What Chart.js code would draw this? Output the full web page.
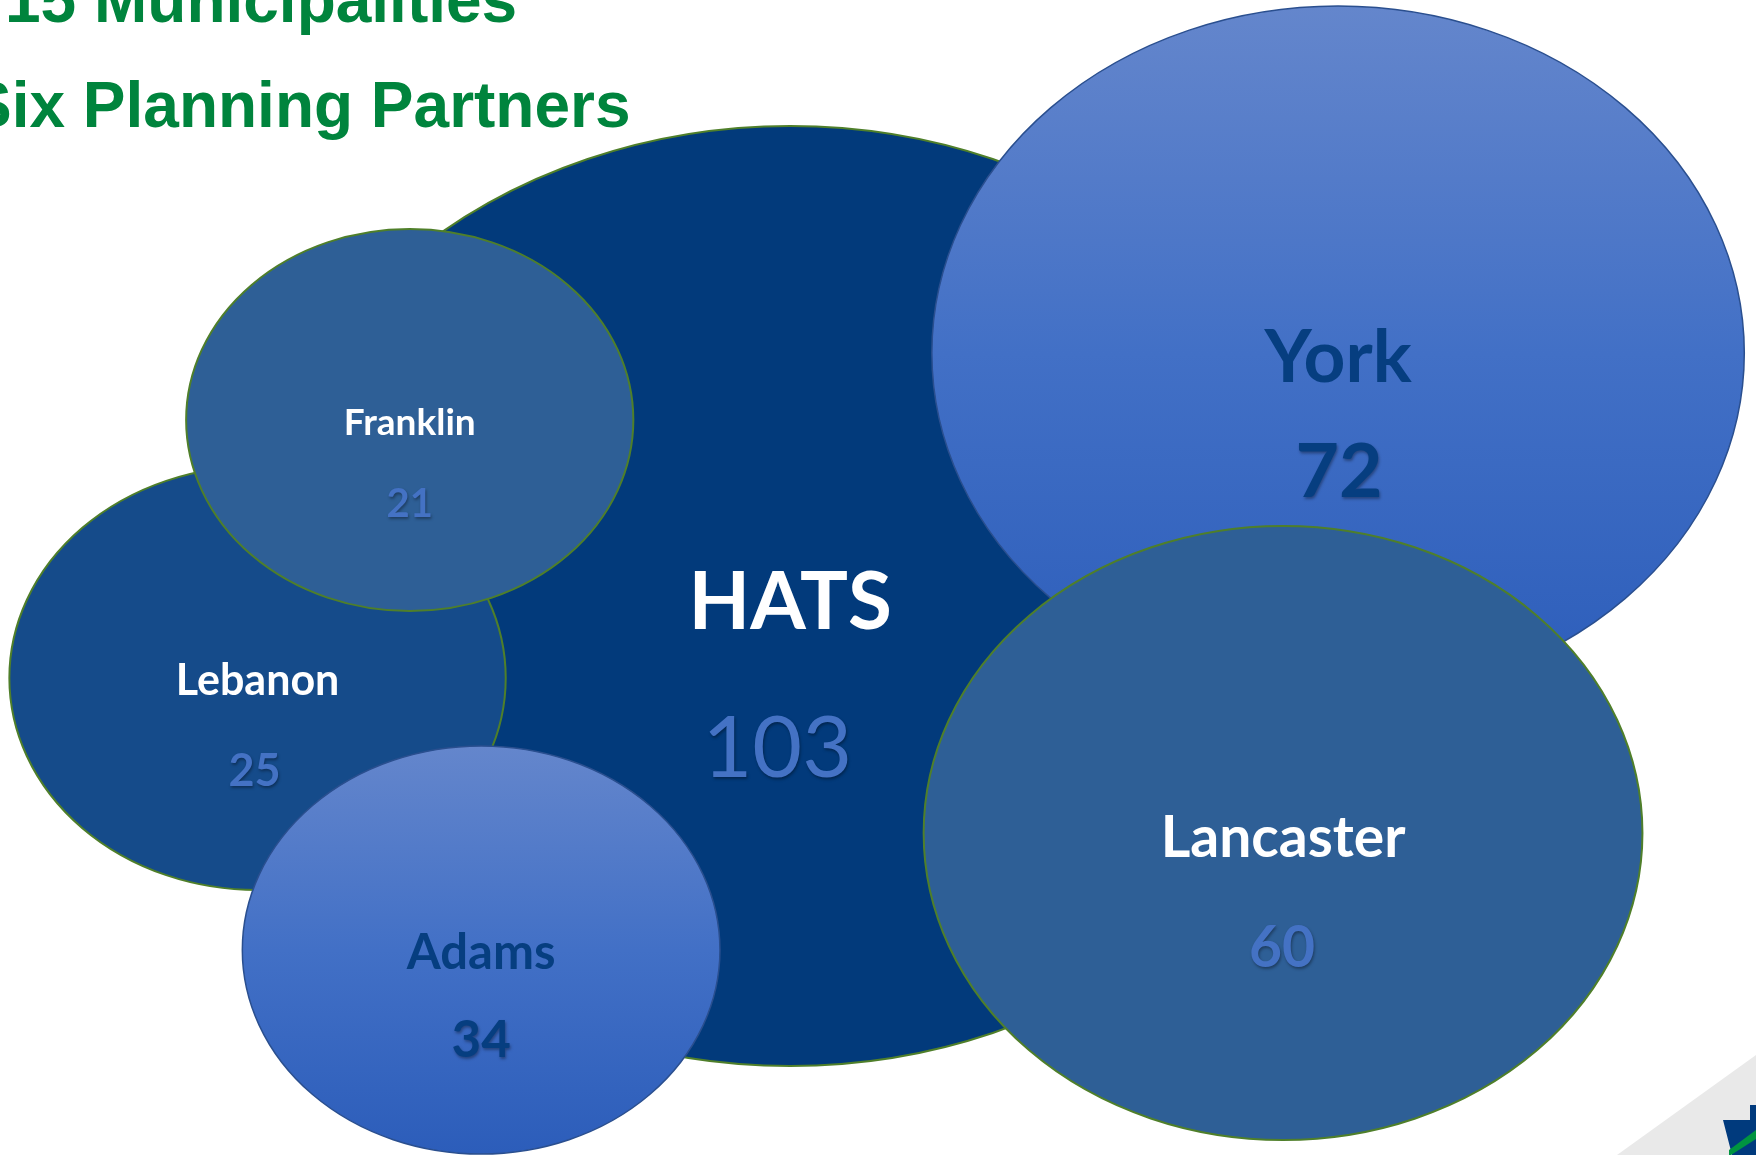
<!DOCTYPE html>
<html lang="en">
<head>
    <meta charset="UTF-8">
    <title>Six Planning Partners</title>
    <script src="https://cdn.jsdelivr.net/npm/chart.js"></script>
    <style>
        html, body { margin: 0; padding: 0; background: #fff; overflow: hidden; }
        #wrap { position: relative; width: 1756px; height: 1155px; }
        #bubbleChart { position: absolute; left: 0; top: 0; }
        .title {
            position: absolute; margin: 0; white-space: nowrap;
            font-family: "Liberation Sans", Arial, sans-serif; font-weight: bold;
            font-size: 64px; line-height: 1; color: #00843d;
        }
        #logo { position: absolute; left: 1600px; top: 1040px; }
    </style>
</head>
<body>
<div id="wrap">
    <canvas id="bubbleChart" width="1756" height="1155"></canvas>
    <!-- heading lines, cut by the slide edge like in the original -->
    <div class="title" style="left: 5px; top: -32px;">15 Municipalities</div>
    <div class="title" style="left: -31px; top: 73px;">Six Planning Partners</div>
    <svg id="logo" width="156" height="115" viewBox="1600 1040 156 115">
        <polygon points="1617,1155 1756,1055 1756,1155" fill="#e9e9e9"/>
        <polygon points="1723,1120 1750,1120 1750,1105 1756,1105 1756,1155 1732,1155" fill="#003a7d"/>
        <polygon points="1729,1150 1756,1130 1756,1139 1731,1155 1729,1155" fill="#009440"/>
    </svg>
</div>

<script>
    // partners, municipality counts and bubble placement (x, y, radius in data units)
    const partners = ["HATS", "Lebanon", "Franklin", "Adams", "York", "Lancaster"];
    const counts = [103, 25, 21, 34, 72, 60];
    const bubbleX = [675, 220, 350, 411, 1143, 1096];
    const bubbleY = [596, 678, 420, 950, 353, 833];
    const bubbleR = [470, 212, 191, 204, 347, 307];

    // look of each bubble (same order as partners)
    const looks = [
        { fill: "#023a7b", line: "#4f7f2a", lw: 2, name: "#ffffff", num: "#4472c4", nameSize: 80, numSize: 86, numWeight: "normal", nameDy: 33, numDy: 181, numDx: -13 },
        { fill: "#154b8a", line: "#4f7f2a", lw: 2, name: "#ffffff", num: "#4472c4", nameSize: 43, numSize: 45, numWeight: "bold", nameDy: 17, numDy: 108, numDx: -3 },
        { fill: "#2e5f96", line: "#4f7f2a", lw: 2, name: "#ffffff", num: "#4472c4", nameSize: 37, numSize: 40, numWeight: "bold", nameDy: 15, numDy: 97, numDx: 0 },
        { fill: "grad", line: "#2a4f8f", lw: 1.5, name: "#063e80", num: "#063e80", nameSize: 49, numSize: 51, numWeight: "bold", nameDy: 19, numDy: 107, numDx: 0 },
        { fill: "grad", line: "#2a4f8f", lw: 1.5, name: "#063e80", num: "#063e80", nameSize: 73, numSize: 75, numWeight: "bold", nameDy: 29, numDy: 144, numDx: 1 },
        { fill: "#2e5f96", line: "#4f7f2a", lw: 2, name: "#ffffff", num: "#4472c4", nameSize: 57, numSize: 57, numWeight: "bold", nameDy: 24, numDy: 134, numDx: -1 }
    ];

    // draws each bubble as an ellipse: the radius goes through both scales,
    // so the wider x axis stretches it horizontally
    const ellipsePlugin = {
        id: "ellipses",
        beforeDatasetsDraw(chart) {
            const ctx = chart.ctx;
            const sx = chart.scales.x, sy = chart.scales.y;
            chart.data.datasets.forEach((ds, i) => {
                const pt = chart.getDatasetMeta(i).data[0];
                const d = ds.data[0];
                const rx = Math.abs(sx.getPixelForValue(d.x + d.size) - pt.x);
                const ry = Math.abs(sy.getPixelForValue(d.y + d.size) - pt.y);
                const look = looks[i];
                ctx.save();
                ctx.beginPath();
                ctx.ellipse(pt.x, pt.y, rx, ry, 0, 0, Math.PI * 2);
                if (look.fill === "grad") {
                    const g = ctx.createLinearGradient(0, pt.y - ry, 0, pt.y + ry);
                    g.addColorStop(0, "#6486cc");
                    g.addColorStop(0.5, "#4270c6");
                    g.addColorStop(1, "#2c5dba");
                    ctx.fillStyle = g;
                } else {
                    ctx.fillStyle = look.fill;
                }
                ctx.fill();
                ctx.lineWidth = look.lw;
                ctx.strokeStyle = look.line;
                ctx.stroke();
                ctx.restore();
            });
        },
        afterDatasetsDraw(chart) {
            const ctx = chart.ctx;
            chart.data.datasets.forEach((ds, i) => {
                const pt = chart.getDatasetMeta(i).data[0];
                const look = looks[i];
                ctx.save();
                ctx.textAlign = "center";
                ctx.textBaseline = "alphabetic";
                ctx.fillStyle = look.name;
                ctx.font = "bold " + look.nameSize + "px Lato, 'Open Sans', sans-serif";
                ctx.fillText(ds.label, pt.x, pt.y + look.nameDy);
                ctx.shadowColor = "rgba(0, 0, 0, 0.35)";
                ctx.shadowOffsetX = 1;
                ctx.shadowOffsetY = 2;
                ctx.shadowBlur = 3;
                ctx.fillStyle = look.num;
                ctx.font = look.numWeight + " " + look.numSize + "px Lato, 'Open Sans', sans-serif";
                ctx.fillText(String(ds.data[0].count), pt.x + look.numDx, pt.y + look.numDy);
                ctx.restore();
            });
        }
    };

    const datasets = partners.map((name, i) => ({
        label: name,
        data: [{ x: bubbleX[i], y: bubbleY[i], r: 0, size: bubbleR[i], count: counts[i] }],
        backgroundColor: "transparent",
        borderWidth: 0
    }));

    new Chart(document.getElementById("bubbleChart"), {
        type: "bubble",
        data: { datasets: datasets },
        options: {
            responsive: false,
            animation: false,
            events: [],
            layout: { padding: 0 },
            plugins: {
                legend: { display: false },
                tooltip: { enabled: false }
            },
            scales: {
                x: { type: "linear", min: 0, max: 1500, display: false },
                y: { type: "linear", min: 0, max: 1155, reverse: true, display: false }
            }
        },
        plugins: [ellipsePlugin]
    });
</script>
</body>
</html>
